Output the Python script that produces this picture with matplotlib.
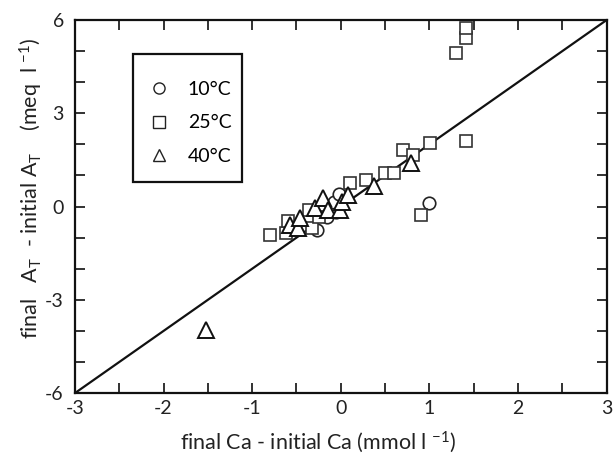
import matplotlib
matplotlib.use("Agg")
import matplotlib.pyplot as plt
from matplotlib.ticker import MultipleLocator
from matplotlib.lines import Line2D
from matplotlib.patches import Rectangle

plt.rcParams['font.family'] = ['Lato', 'DejaVu Sans']
plt.rcParams['mathtext.fontset'] = 'custom'
plt.rcParams['mathtext.rm'] = 'Lato'
plt.rcParams['mathtext.it'] = 'Lato'
plt.rcParams['axes.unicode_minus'] = False

# 10°C
c10_x = [-0.27, -0.15, -0.05, -0.08, -0.02, 1.00]
c10_y = [-0.76, -0.33, -0.17, 0.15, 0.42, 0.10]
# 25°C
c25_x = [-0.80, -0.62, -0.59, -0.36, -0.33, -0.25, 0.10, 0.29, 0.50, 0.60,
         0.70, 0.82, 1.01, 1.41, 0.90, 1.30, 1.41, 1.41]
c25_y = [-0.92, -0.85, -0.45, -0.10, -0.68, -0.33, 0.75, 0.87, 1.09, 1.09,
         1.82, 1.65, 2.03, 2.12, -0.28, 4.93, 5.42, 5.74]
# 40°C
c40_x = [-1.52, -0.57, -0.48, -0.46, -0.29, -0.20, -0.14, -0.01, 0.01, 0.08, 0.38, 0.79]
c40_y = [-3.97, -0.60, -0.70, -0.38, -0.06, 0.26, -0.11, -0.11, 0.15, 0.37, 0.66, 1.39]

line_x = [-3, 3]
line_y = [-6, 6]

fig = plt.figure(figsize=(6.14, 4.55), dpi=100)
ax = fig.add_axes([0.122, 0.136, 0.866, 0.82])

ax.plot(line_x, line_y, color='#111111', lw=1.6, zorder=1)
ax.plot(c10_x, c10_y, 'o', ms=9, mfc='white', mec='#222222', mew=1.2, zorder=2)
ax.plot(c25_x, c25_y, 's', ms=9, mfc='white', mec='#333333', mew=1.2, zorder=3)
ax.plot(c40_x, c40_y, '^', ms=12, mfc='white', mec='#111111', mew=1.4, zorder=4)

ax.set_xlim(-3, 3)
ax.set_ylim(-6, 6)
ax.xaxis.set_major_locator(MultipleLocator(1))
ax.xaxis.set_minor_locator(MultipleLocator(0.5))
ax.yaxis.set_major_locator(MultipleLocator(3))
ax.yaxis.set_minor_locator(MultipleLocator(1))
ax.tick_params(which='both', direction='in', top=True, right=True, width=1.3,
               labelsize=14, colors='#222222')
ax.tick_params(which='major', length=7)
ax.tick_params(which='minor', length=7)
ax.tick_params(axis='x', which='major', pad=5)
ax.tick_params(axis='y', which='major', pad=8)
for s in ax.spines.values():
    s.set_linewidth(1.6)
    s.set_color('#111111')

ax.set_xlabel('final Ca - initial Ca (mmol l $^{-1}$)', fontsize=15.5, color='#222222')
ax.xaxis.set_label_coords(0.458, -0.097)
ax.set_ylabel('final   A$_{T}$  - initial A$_{T}$    (meq  l $^{-1}$)', fontsize=15.5, color='#222222')
ax.yaxis.set_label_coords(-0.057, 0.55)

# legend frame
ax.add_patch(Rectangle((0.110, 0.566), 0.204, 0.343, transform=ax.transAxes,
                       fill=True, facecolor='white', edgecolor='#111111', lw=1.6, zorder=5))

handles = [
    Line2D([], [], ls='none', marker='o', ms=8, mfc='white', mec='#222222', mew=1.0),
    Line2D([], [], ls='none', marker='s', ms=8, mfc='white', mec='#222222', mew=1.0),
    Line2D([], [], ls='none', marker='^', ms=9, mfc='white', mec='#222222', mew=1.0),
]
leg = ax.legend(handles, ['10°C', '25°C', '40°C'], loc='upper left',
                bbox_to_anchor=(0.139, 0.837), fontsize=14, frameon=False,
                borderpad=0, borderaxespad=0,
                labelspacing=0.85, handletextpad=1.0, handlelength=1.0)
leg.set_zorder(6)

fig.savefig('out.png', dpi=100)
